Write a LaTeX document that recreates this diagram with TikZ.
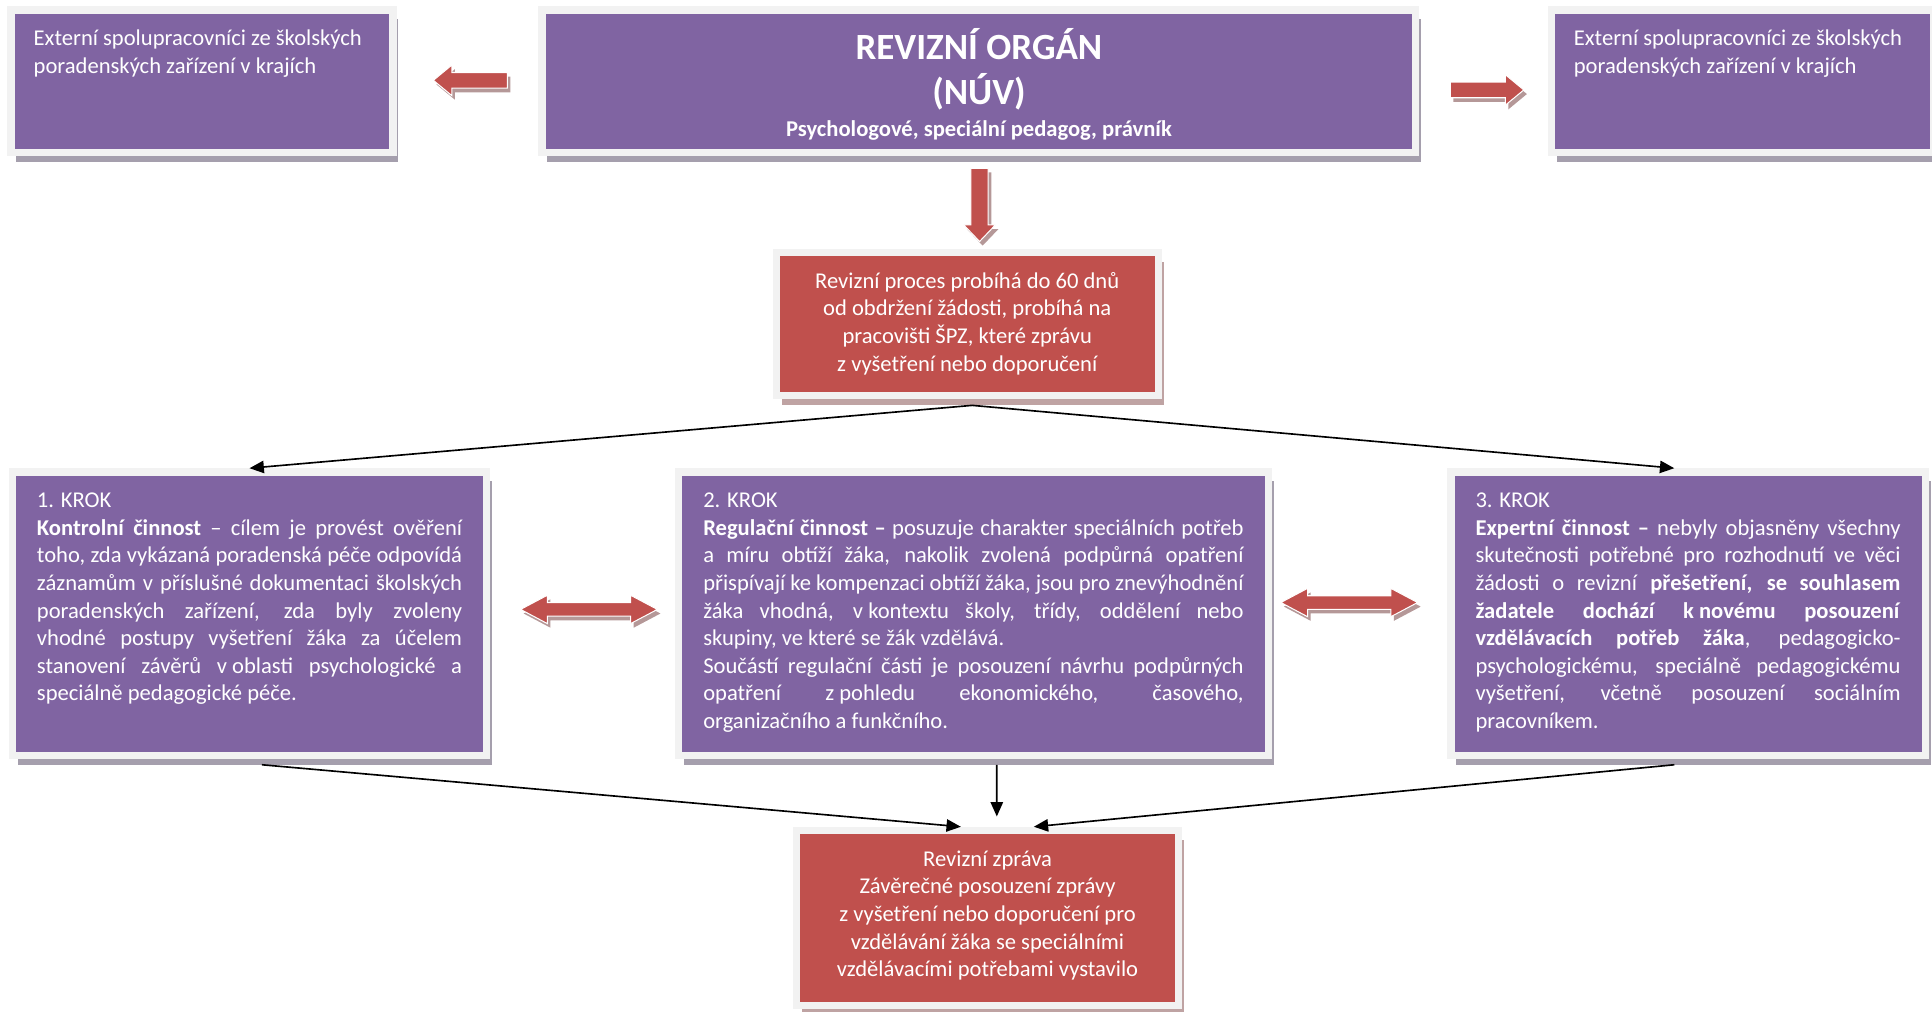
\documentclass[tikz,border=0pt]{standalone}
\usepackage{fontspec}
\setmainfont{Carlito}
\usetikzlibrary{arrows.meta,shadows}

% Office-like colours
\definecolor{boxpurple}{HTML}{8064A2}
\definecolor{boxred}{HTML}{C0504D}
\definecolor{framegray}{HTML}{F2F2F2}
\definecolor{purpleshadow}{HTML}{A59FAD}
\definecolor{redshadow}{HTML}{BFA3A3}
\definecolor{arrowshadow}{HTML}{B59898}

\begin{document}
\begin{tikzpicture}[
    x=0.6pt, y=-0.6pt,
    frame/.style={draw=framegray, line width=3.6pt, text=white,
        inner xsep=11pt, inner ysep=8pt, font=\fontsize{11}{13.44}\selectfont},
    purplebox/.style={frame, fill=boxpurple,
        drop shadow={fill=purpleshadow, opacity=1, shadow xshift=2.6pt, shadow yshift=-4.6pt}},
    redbox/.style={frame, fill=boxred,
        drop shadow={fill=redshadow, opacity=1, shadow xshift=2.6pt, shadow yshift=-4.6pt}},
    stepbox/.style={purplebox, inner xsep=12pt},
    blockarrow/.style={fill=boxred, draw=white, line width=0.5pt,
        drop shadow={fill=arrowshadow, opacity=1, shadow xshift=1.5pt, shadow yshift=-2pt}},
    link/.style={-{Triangle[length=7pt,width=6pt]}, line width=0.8pt}
]

\useasboundingbox (0,0) rectangle (1568,821);

% Box dimensions
\def\smallw{164pt}
\def\smallh{53.6pt}
\def\stepw{207pt}
\def\steph{122pt}

% Top row
\node[purplebox] (ext1) at (164,66) {\parbox[c][\smallh][t]{\smallw}{\raggedright\strut
    Externí spolupracovníci ze školských\\poradenských zařízení v krajích}};
\node[purplebox] (organ) at (794.5,66) {\parbox[c][\smallh][t]{403.4pt}{\vspace*{1.2pt}\centering\bfseries
    \fontsize{18}{21.6}\selectfont\strut REVIZNÍ ORGÁN\par
    (NÚV)\par
    \fontsize{11}{15.8}\selectfont Psychologové, speciální pedagog, právník\par}};
\node[purplebox] (ext2) at (1414,66) {\parbox[c][\smallh][t]{\smallw}{\raggedright\strut
    Externí spolupracovníci ze školských\\poradenských zařízení v krajích}};

% Review process
\node[redbox] (proc) at (785,263) {\parbox[c][\smallh][t]{\smallw}{\centering\strut
    Revizní proces probíhá do 60 dnů\\od obdržení žádosti, probíhá na\\pracovišti ŠPZ, které zprávu\\z vyšetření nebo doporučení}};

% Three steps
\node[stepbox] (krok1) at (202.5,498) {\parbox[c][\steph][t]{\stepw}{\tolerance=10000\hbadness=10000\strut
    1. KROK\par
    \textbf{Kontrolní činnost} – cílem je provést ověření\linebreak
    toho, zda vykázaná poradenská péče odpovídá\linebreak
    záznamům v příslušné dokumentaci školských\linebreak
    poradenských zařízení, zda byly zvoleny\linebreak
    vhodné postupy vyšetření žáka za účelem\linebreak
    stanovení závěrů \mbox{v oblasti} psychologické a\linebreak
    speciálně pedagogické péče.}};
\node[stepbox] (krok2) at (790,498) {\parbox[c][\steph][t]{263.1pt}{\tolerance=10000\hbadness=10000\strut
    2. KROK\par
    \textbf{Regulační činnost –} posuzuje charakter speciálních potřeb\linebreak
    a míru obtíží žáka, nakolik zvolená podpůrná opatření\linebreak
    přispívají ke kompenzaci obtíží žáka, jsou pro znevýhodnění\linebreak
    žáka vhodná, \mbox{v kontextu} školy, třídy, oddělení nebo\linebreak
    skupiny, ve které se žák vzdělává.\par
    Součástí regulační části je posouzení návrhu podpůrných\linebreak
    opatření \mbox{z pohledu} ekonomického, časového,\linebreak
    organizačního a funkčního.}};
\node[stepbox] (krok3) at (1370,498) {\parbox[c][\steph][t]{\stepw}{\tolerance=10000\hbadness=10000\strut
    3. KROK\par
    \textbf{Expertní činnost –} nebyly objasněny všechny\linebreak
    skutečnosti potřebné pro rozhodnutí ve věci\linebreak
    žádosti o revizní \textbf{přešetření, se souhlasem}\linebreak
    \textbf{žadatele dochází \mbox{k novému} posouzení}\linebreak
    \textbf{vzdělávacích potřeb žáka}, pedagogicko-\linebreak
    psychologickému, speciálně pedagogickému\linebreak
    vyšetření, včetně posouzení sociálním\linebreak
    pracovníkem.}};

% Final report
\node[redbox] (fin) at (801.5,745) {\parbox[c][69.2pt][t]{\smallw}{\centering\strut
    Revizní zpráva\\Závěrečné posouzení zprávy\\z vyšetření nebo doporučení pro\\vzdělávání žáka se speciálními\\vzdělávacími potřebami vystavilo}};

% Block arrows
\path[blockarrow] (351.7,65.2) -- ++(15,-12.4) -- ++(0,6.05) -- ++(45,0) -- ++(0,12.7)
    -- ++(-45,0) -- ++(0,6.05) -- cycle;
\path[blockarrow] (1236.7,73) -- ++(-15,-12.4) -- ++(0,6.05) -- ++(-44.7,0) -- ++(0,12.7)
    -- ++(44.7,0) -- ++(0,6.05) -- cycle;
\path[blockarrow] (795,196) -- ++(-12.8,-13.4) -- ++(5.8,0) -- ++(0,-46) -- ++(14,0)
    -- ++(0,46) -- ++(5.8,0) -- cycle;
\foreach \x/\y in {478/494.6, 1095/489} {
    \path[blockarrow] (\x-55.5,\y) -- ++(21.7,-11.5) -- ++(0,6) -- ++(67.6,0) -- ++(0,-6)
        -- ++(21.7,11.5) -- ++(-21.7,11.5) -- ++(0,-6) -- ++(-67.6,0) -- ++(0,6) -- cycle;
}

% Connectors
\coordinate (split) at ([xshift=2.4pt,yshift=-3pt]proc.south);
\draw[link] (split) -- (krok1.north);
\draw[link] (split) -- ([xshift=-6.7pt]krok3.north);
\draw[link] ([xshift=6pt,yshift=-2.8pt]krok1.south) -- ([xshift=-13pt]fin.north);
\draw[link] ([xshift=11.4pt,yshift=-2.8pt]krok2.south) -- ([xshift=4.5pt,yshift=5pt]fin.north);
\draw[link] ([xshift=-6.7pt,yshift=-2.8pt]krok3.south) -- ([xshift=22.5pt]fin.north);

\end{tikzpicture}
\end{document}
